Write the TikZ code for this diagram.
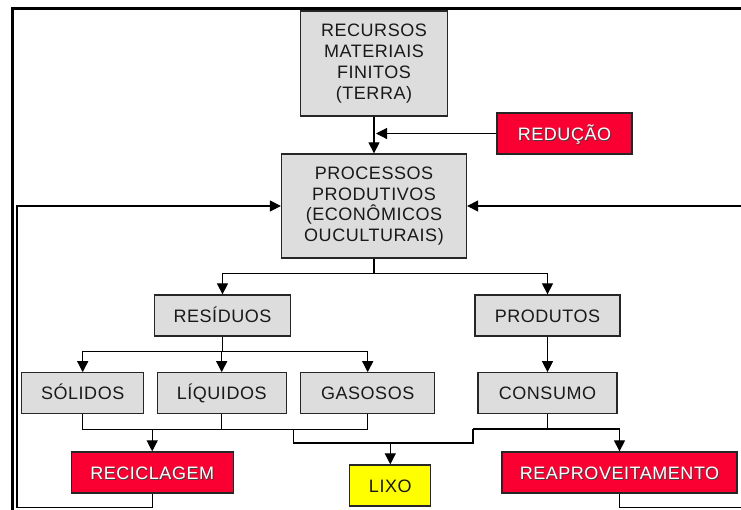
\documentclass[tikz,border=0pt]{standalone}
\usepackage{fontspec}
\setmainfont{Liberation Sans}[LetterSpace=3]
\usetikzlibrary{arrows.meta}
\definecolor{boxgray}{RGB}{221,221,221}
\definecolor{boxred}{RGB}{250,0,50}
\definecolor{boxyellow}{RGB}{255,255,0}
\newcommand\shtext[1]{\makebox[0pt][l]{\kern1pt\raisebox{-1pt}{\textcolor{black!75}{#1}}}\textcolor{white}{#1}}
\begin{document}
\begin{tikzpicture}[x=1pt,y=-1pt,
  box/.style={draw=black!85, line width=1.3pt, fill=boxgray, align=center, inner sep=0pt,
              font=\fontsize{18}{20.8}\selectfont, text=black!90},
  one/.style={text height=13pt, text depth=0pt},
  redbox/.style={box, one, fill=boxred},
  yelbox/.style={box, one, fill=boxyellow},
  conn/.style={line width=1.2pt, black},
  arr/.style={conn, -{Triangle[width=11pt,length=11pt]}},
  frame/.style={line width=2.6pt, black}
]
\useasboundingbox (0,0) rectangle (741,509);
\fill[white] (0,0) rectangle (741,509);

% outer frame
\draw[frame] (12.5,520) -- (12.5,8.5) -- (750,8.5);

% nodes
\node[box, minimum width=147pt, minimum height=105pt] (rec) at (374,63.5)
  {RECURSOS\\MATERIAIS\\FINITOS\\(TERRA)};
\node[redbox, minimum width=135pt, minimum height=41pt] (red) at (564.5,133.5) {\shtext{REDUÇÃO}};
\node[box, minimum width=185pt, minimum height=104pt] (proc) at (374,206)
  {PROCESSOS\\PRODUTIVOS\\(ECONÔMICOS\\OUCULTURAIS)};
\node[box, one, minimum width=136pt, minimum height=41pt] (res) at (222.5,315.5) {RESÍDUOS};
\node[box, one, minimum width=145pt, minimum height=41pt] (prod) at (547.5,315.5) {PRODUTOS};
\node[box, one, minimum width=122pt, minimum height=41pt] (sol) at (82.7,393.3) {SÓLIDOS};
\node[box, one, minimum width=129pt, minimum height=41pt] (liq) at (221.7,393.3) {LÍQUIDOS};
\node[box, one, minimum width=134pt, minimum height=41pt] (gas) at (367.7,393.3) {GASOSOS};
\node[box, one, minimum width=139pt, minimum height=41pt] (cons) at (547.5,393.3) {CONSUMO};
\node[redbox, minimum width=162pt, minimum height=41pt] (recic) at (152.2,472.5) {\shtext{RECICLAGEM}};
\node[yelbox, minimum width=81pt, minimum height=41pt] (lixo) at (390.3,485.5) {LIXO};
\node[redbox, minimum width=235pt, minimum height=41pt] (reap) at (619.5,472.5) {\shtext{REAPROVEITAMENTO}};

% top connectors
\draw[arr] (rec.south) -- (proc.north);
\coordinate (redtip) at (rec.south |- red.west);
\draw[arr] (red.west) -- ([xshift=2pt]redtip);

% processos -> residuos / produtos
\path (proc.south) ++(0,15) coordinate (j1);
\draw[conn] (proc.south) -- (j1);
\draw[arr] (j1) -| (res.north);
\draw[arr] (j1) -| (prod.north);

% residuos -> solidos, liquidos, gasosos
\path (res.south) ++(0,15) coordinate (j2);
\draw[conn] (res.south) -- (j2);
\draw[arr] (j2) -| (sol.north);
\draw[arr] (j2 -| liq.north) -- (liq.north);
\draw[arr] (j2) -| (gas.north);

% produtos -> consumo
\draw[arr] (prod.south) -- (cons.north);

% lower collector
\path (sol.south) ++(0,15) coordinate (s1);
\draw[conn] (sol.south) -- (s1) -- (s1 -| gas.south) -- (gas.south);
\draw[conn] (liq.south) -- (liq.south |- s1);
\draw[arr] (s1 -| recic.north) -- (recic.north);
\coordinate (k1) at (293.5,429);
\coordinate (k2) at (293.5,443);
\coordinate (k3) at (473,443);
\coordinate (k4) at (473,429);
\draw[conn] (k1) -- (k2) -- (k3) -- (k4);
\draw[arr] (k2 -| lixo.north) -- (lixo.north);
\draw[conn] (cons.south) -- (cons.south |- k4);
\draw[arr] (k4) -| (reap.north);

% feedback loops
\coordinate (fbl) at (17,507.5);
\draw[arr] (recic.south) |- (fbl) |- (proc.west);
\coordinate (fbr) at (741,507.5);
\draw[conn] (reap.south) |- (fbr);
\draw[arr] (proc.east -| fbr) -- (proc.east);
\end{tikzpicture}
\end{document}
